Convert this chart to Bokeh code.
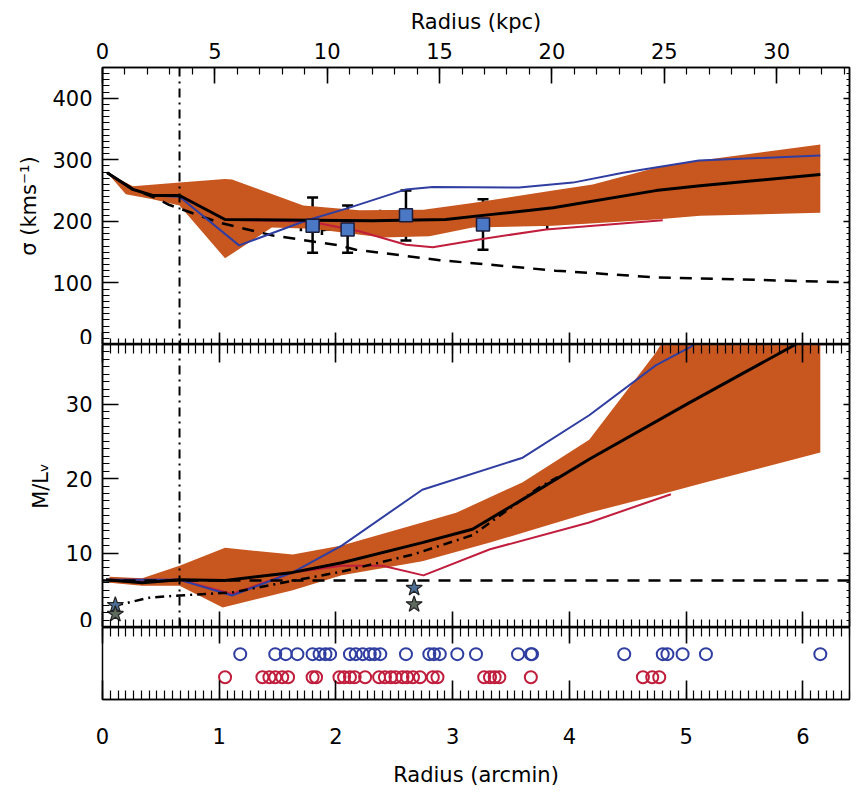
import numpy as np
from bokeh.plotting import figure
from bokeh.models import Range1d, LinearAxis, FixedTicker, Span, ColumnDataSource, Whisker, TeeHead
from bokeh.layouts import column
from bokeh.embed import file_html
from bokeh.resources import INLINE

# ---------------- data ----------------
KPC_PER_ARCMIN = 5.194
X_MAX = 6.4
R_EFF = 0.66          # vertical dash-dot line (arcmin)
ML_STELLAR = 6.3      # horizontal dashed line in M/L panel

# top panel: velocity dispersion (km/s)
sig_band_up_x = [0.04, 0.26, 0.66, 1.05, 1.11, 1.72, 2.20, 2.75, 3.17, 3.86, 4.20, 4.74, 5.12, 6.15]
sig_band_up_y = [279, 257, 263, 269, 268, 226, 218, 219, 230, 250, 260, 287, 299, 325]
sig_band_lo_x = [0.04, 0.20, 0.43, 0.66, 1.05, 1.45, 1.80, 2.40, 2.80, 3.17, 3.86, 4.74, 5.12, 6.15]
sig_band_lo_y = [279, 244, 236, 226, 140, 190, 188, 174, 176, 190, 193, 203, 209, 214]

sig_black_x = [0.04, 0.26, 0.43, 0.66, 1.05, 2.31, 2.94, 3.32, 3.86, 4.74, 5.12, 6.15]
sig_black_y = [279, 252, 242, 242, 203, 201, 203, 211, 222, 250, 258, 276]
sig_blue_x = [0.04, 0.26, 0.43, 0.66, 1.17, 1.74, 2.11, 2.60, 2.83, 3.57, 4.03, 4.46, 5.11, 6.15]
sig_blue_y = [279, 252, 242, 240, 161, 201, 222, 252, 256, 255, 263, 279, 299, 307]
sig_red_x = [0.04, 0.26, 0.43, 0.66, 1.05, 1.80, 2.20, 2.60, 2.83, 3.24, 3.80, 4.80]
sig_red_y = [279, 252, 242, 242, 203, 199, 184, 162, 158, 171, 187, 202]
sig_dash_x = [0.04, 0.26, 0.43, 0.57, 1.00, 1.46, 2.03, 2.17, 2.89, 3.88, 4.74, 5.60, 6.40]
sig_dash_y = [279, 252, 240, 227, 198, 177, 161, 154, 137, 120, 109, 105, 101]

pts_x = [1.80, 2.10, 2.60, 3.26]
pts_y = [193, 187, 210, 195]
pts_ylo = [149, 149, 169, 154]
pts_yhi = [239, 226, 250, 236]
pts_xlo = [1.70, 1.88, 2.38, 2.93]
pts_xhi = [1.90, 2.37, 2.81, 3.81]

# middle panel: M/L_V
ml_band_up_x = [0.06, 0.34, 0.66, 1.05, 1.63, 2.05, 2.74, 3.03, 3.60, 4.17, 4.74, 4.86, 6.15]
ml_band_up_y = [6.8, 6.6, 8.3, 10.7, 9.8, 11.0, 14.1, 15.4, 19.5, 25.2, 36.9, 40.0, 40.0]
ml_band_lo_x = [0.06, 0.34, 0.66, 1.03, 1.63, 2.05, 2.74, 3.32, 4.17, 4.74, 5.17, 6.15]
ml_band_lo_y = [6.0, 5.6, 5.6, 2.7, 5.0, 7.0, 8.9, 11.4, 15.4, 17.7, 19.5, 23.5]

ml_black_x = [0.03, 0.34, 0.66, 1.05, 1.63, 2.05, 2.74, 3.17, 3.60, 4.17, 5.03, 5.89, 6.15]
ml_black_y = [6.4, 6.0, 6.4, 6.3, 7.4, 8.7, 11.4, 13.2, 17.2, 22.6, 30.2, 37.6, 39.9]
ml_blue_x = [0.03, 0.66, 1.11, 1.63, 2.05, 2.74, 3.60, 4.17, 4.74, 5.03, 5.20]
ml_blue_y = [6.4, 6.4, 4.3, 7.4, 11.0, 18.5, 22.8, 28.5, 35.2, 37.6, 39.5]
ml_red_x = [0.03, 0.66, 1.11, 1.63, 2.05, 2.40, 2.75, 3.32, 4.17, 4.87]
ml_red_y = [6.4, 6.4, 4.5, 7.4, 8.3, 8.3, 7.0, 10.5, 14.1, 17.9]
ml_dashdot_x = [0.10, 0.40, 0.66, 1.11, 1.54, 2.05, 2.66, 3.17, 3.74, 3.90]
ml_dashdot_y = [2.9, 4.0, 4.3, 4.7, 6.0, 7.5, 9.8, 12.4, 18.8, 20.2]

star_x = [0.11, 0.11, 2.67, 2.67]
star_y = [3.0, 1.8, 5.3, 3.1]
star_colors = ["#4d6e96", "#5e6b5e", "#4d6e96", "#5e6b5e"]

# bottom panel: individual tracer positions (arcmin)
blue_r = [1.18, 1.48, 1.57, 1.67, 1.80, 1.86, 1.91, 1.95, 2.12, 2.17, 2.23, 2.29, 2.33, 2.38,
          2.60, 2.80, 2.84, 2.89, 3.04, 3.20, 3.56, 3.67, 3.68, 4.47, 4.80, 4.84, 4.97, 5.17, 6.15]
red_r = [1.05, 1.37, 1.43, 1.48, 1.54, 1.59, 1.80, 1.83, 2.03, 2.07, 2.12, 2.16, 2.25, 2.37,
         2.42, 2.47, 2.51, 2.57, 2.61, 2.66, 2.72, 2.83, 2.87, 3.27, 3.32, 3.36, 3.40, 3.67,
         4.63, 4.71, 4.77]
BLUE_ROW = 0.63
RED_ROW = 0.31

ARCMIN_TICKS = [0, 1, 2, 3, 4, 5, 6]
KPC_TICKS = [0, 5, 10, 15, 20, 25, 30]
SIG_TICKS = [0, 100, 200, 300, 400]
ML_TICKS = [0, 10, 20, 30]

# ---------------- style ----------------
BAND = "#c8561f"
BLUE = "#2f3ea0"
RED = "#c01e3c"
FONT = "DejaVu Sans"
FS = "21px"
FRAME_W = 747
LEFT = 102
RIGHT = 3

arcmin_minor = [i / 15 for i in range(0, 97)]
kpc_minor = list(range(0, 34))
sig_minor = list(range(0, 451, 10))
ml_minor = list(range(0, 39))

xr = Range1d(0, X_MAX)


def base_fig(h, y_range, top, bottom):
    p = figure(frame_width=FRAME_W, frame_height=h, x_range=xr, y_range=y_range,
               output_backend="svg", toolbar_location=None,
               min_border_left=LEFT, min_border_right=RIGHT,
               min_border_top=top, min_border_bottom=bottom)
    p.xgrid.grid_line_color = None
    p.ygrid.grid_line_color = None
    p.outline_line_color = "black"
    p.outline_line_width = 1.5
    p.background_fill_color = "white"
    p.border_fill_color = "white"
    return p


def style_axis(ax, ticks, minor, labels, major_in=15, minor_in=7):
    ax.ticker = FixedTicker(ticks=ticks, minor_ticks=minor)
    ax.major_tick_in = major_in
    ax.major_tick_out = 0
    ax.minor_tick_in = minor_in
    ax.minor_tick_out = 0
    ax.axis_line_width = 1.5
    ax.axis_line_color = "black"
    ax.major_tick_line_width = 1.6
    ax.minor_tick_line_width = 1.2
    ax.major_tick_line_color = "black"
    ax.minor_tick_line_color = "black"
    ax.major_label_text_font = FONT
    ax.major_label_text_color = "black"
    ax.axis_label_text_font = FONT
    ax.axis_label_text_font_style = "normal"
    ax.axis_label_text_font_size = FS
    ax.axis_label_text_color = "black"
    if labels:
        ax.major_label_text_font_size = FS
    else:
        ax.major_label_text_font_size = "0px"
        ax.major_label_standoff = 0
        ax.axis_label = None


def right_axis(p, ticks, minor):
    ax = LinearAxis()
    style_axis(ax, ticks, minor, False, major_in=6, minor_in=3)
    p.add_layout(ax, "right")


# ---------------- top panel ----------------
p1 = base_fig(277, Range1d(0, 450), 67, 0)
p1.extra_x_ranges = {"kpc": Range1d(0, X_MAX * KPC_PER_ARCMIN)}
style_axis(p1.xaxis[0], ARCMIN_TICKS, arcmin_minor, False, major_in=12, minor_in=6)
style_axis(p1.yaxis[0], SIG_TICKS, sig_minor, True, major_in=16, minor_in=7)
p1.yaxis[0].axis_label = "σ (kms⁻¹)"
p1.yaxis[0].major_label_standoff = 10
p1.yaxis[0].axis_label_standoff = 8
kax = LinearAxis(x_range_name="kpc")
style_axis(kax, KPC_TICKS, kpc_minor, True, major_in=16, minor_in=7)
kax.axis_label = "Radius (kpc)"
kax.major_label_standoff = 9
kax.axis_label_standoff = 6
p1.add_layout(kax, "above")
right_axis(p1, SIG_TICKS, sig_minor)

p1.patch(sig_band_up_x + sig_band_lo_x[::-1], sig_band_up_y + sig_band_lo_y[::-1],
         fill_color=BAND, line_color=None)
p1.add_layout(Span(location=R_EFF, dimension="height", line_color="black",
                   line_width=2, line_dash="9 5 2 5"))
p1.line(sig_dash_x, sig_dash_y, line_color="black", line_width=2.5, line_dash="12 9")
p1.line(sig_red_x, sig_red_y, line_color=RED, line_width=2)
p1.line(sig_blue_x, sig_blue_y, line_color=BLUE, line_width=2)
p1.line(sig_black_x, sig_black_y, line_color="black", line_width=3)

src = ColumnDataSource(dict(x=pts_x, y=pts_y, ylo=pts_ylo, yhi=pts_yhi, xlo=pts_xlo, xhi=pts_xhi))
p1.add_layout(Whisker(source=src, base="x", lower="ylo", upper="yhi", dimension="height",
                      line_color="black", line_width=2.5,
                      lower_head=TeeHead(size=11, line_width=2.5, line_color="black"),
                      upper_head=TeeHead(size=11, line_width=2.5, line_color="black")))
p1.add_layout(Whisker(source=src, base="y", lower="xlo", upper="xhi", dimension="width",
                      line_color="black", line_width=2.5,
                      lower_head=TeeHead(size=11, line_width=2.5, line_color="black"),
                      upper_head=TeeHead(size=11, line_width=2.5, line_color="black")))
p1.scatter("x", "y", source=src, marker="square", size=13, fill_color="#4a78c4",
           line_color="#1b1b3a", line_width=1.5)

# ---------------- middle panel ----------------
p2 = base_fig(283, Range1d(0, 38), 0, 0)
style_axis(p2.xaxis[0], ARCMIN_TICKS, arcmin_minor, False, major_in=16, minor_in=8)
style_axis(p2.yaxis[0], ML_TICKS, ml_minor, True, major_in=16, minor_in=7)
p2.yaxis[0].axis_label = "M/Lᵥ"
p2.yaxis[0].major_label_standoff = 10
p2.yaxis[0].axis_label_standoff = 10
tax2 = LinearAxis()
style_axis(tax2, ARCMIN_TICKS, arcmin_minor, False, major_in=18, minor_in=9)
p2.add_layout(tax2, "above")
right_axis(p2, ML_TICKS, ml_minor)

p2.patch(ml_band_up_x + ml_band_lo_x[::-1], ml_band_up_y + ml_band_lo_y[::-1],
         fill_color=BAND, line_color=None)
p2.add_layout(Span(location=R_EFF, dimension="height", line_color="black",
                   line_width=2, line_dash="9 5 2 5"))
p2.add_layout(Span(location=ML_STELLAR, dimension="width", line_color="black",
                   line_width=2.5, line_dash="12 9"))
p2.line(ml_red_x, ml_red_y, line_color=RED, line_width=2)
p2.line(ml_blue_x, ml_blue_y, line_color=BLUE, line_width=2)
p2.line(ml_dashdot_x, ml_dashdot_y, line_color="black", line_width=2.5, line_dash="9 5 2 5")
p2.line(ml_black_x, ml_black_y, line_color="black", line_width=3)
p2.scatter(star_x, star_y, marker="star", size=17, fill_color=star_colors,
           line_color="#222222", line_width=1.2)

# ---------------- bottom panel ----------------
p3 = base_fig(72, Range1d(0, 1), 0, 91)
p3.yaxis.visible = False
style_axis(p3.xaxis[0], ARCMIN_TICKS, arcmin_minor, True, major_in=19, minor_in=9)
p3.xaxis[0].axis_label = "Radius (arcmin)"
p3.xaxis[0].major_label_standoff = 28
p3.xaxis[0].axis_label_standoff = 16
tax3 = LinearAxis()
style_axis(tax3, ARCMIN_TICKS, arcmin_minor, False, major_in=16, minor_in=9)
p3.add_layout(tax3, "above")

p3.scatter(blue_r, [BLUE_ROW] * len(blue_r), marker="circle", size=12,
           fill_color=None, line_color=BLUE, line_width=2)
p3.scatter(red_r, [RED_ROW] * len(red_r), marker="circle", size=12,
           fill_color=None, line_color=RED, line_width=2)

layout = column(p1, p2, p3, spacing=0)
open("out.html", "w").write(file_html(layout, INLINE))
